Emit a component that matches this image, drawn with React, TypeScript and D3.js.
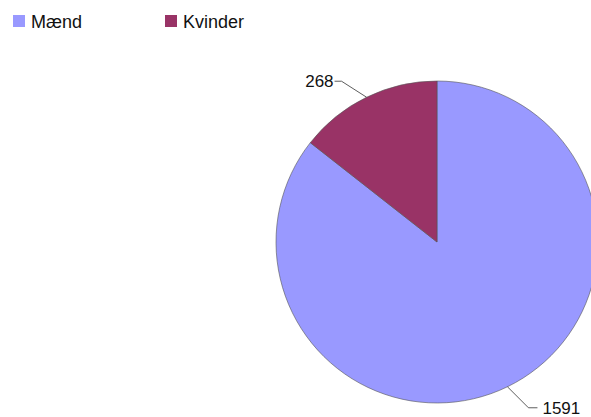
import React from "react";
import * as d3 from "d3";

const categories = ["Mænd", "Kvinder"];
const values = [1591, 268];
const colors = ["#9999ff", "#993366"];

export default function App() {
  const width = 591;
  const height = 417;
  const cx = 437;
  const cy = 242;
  const r = 161;
  const data = categories.map((c, i) => ({ name: c, value: values[i], color: colors[i] }));
  const pie = d3.pie<any>().sort(null).value((d) => d.value);
  const arcs = pie(data);
  const arc = d3.arc<any>().innerRadius(0).outerRadius(r);

  const labelFor = (a: any, i: number) => {
    const mid = (a.startAngle + a.endAngle) / 2;
    const px = Math.sin(mid) * r;
    const py = -Math.cos(mid) * r;
    const left = px < 0;
    const ex = px + (left ? -25 : 21);
    const ey = py + (py < 0 ? -16 : 21);
    const hx = ex + (left ? -7 : 9);
    return (
      <g key={"l" + i} transform={`translate(${cx},${cy})`}>
        <polyline
          points={`${px},${py} ${ex},${ey} ${hx},${ey}`}
          fill="none"
          stroke="#333"
          strokeWidth={0.8}
        />
        <text
          x={hx + (left ? -1 : 5)}
          y={ey}
          dy="0.36em"
          textAnchor={left ? "end" : "start"}
          fontSize={17}
          fill="#111"
        >
          {a.data.value}
        </text>
      </g>
    );
  };

  return (
    <svg
      width={width}
      height={height}
      style={{ position: "absolute", left: 0, top: 0, fontFamily: "'Liberation Sans', Arial, sans-serif" }}
    >
      <rect x={0} y={0} width={width} height={height} fill="#fff" />
      <g>
        {data.map((d, i) => (
          <g key={d.name} transform={`translate(${i === 0 ? 13 : 165},0)`}>
            <rect x={0} y={15} width={12} height={12} fill={d.color} />
            <text x={18} y={27.5} fontSize={18} fill="#111">
              {d.name}
            </text>
          </g>
        ))}
      </g>
      <g transform={`translate(${cx},${cy})`}>
        {arcs.map((a, i) => (
          <path key={i} d={arc(a) as string} fill={a.data.color} stroke="#555" strokeWidth={0.6} />
        ))}
      </g>
      {arcs.map(labelFor)}
    </svg>
  );
}
